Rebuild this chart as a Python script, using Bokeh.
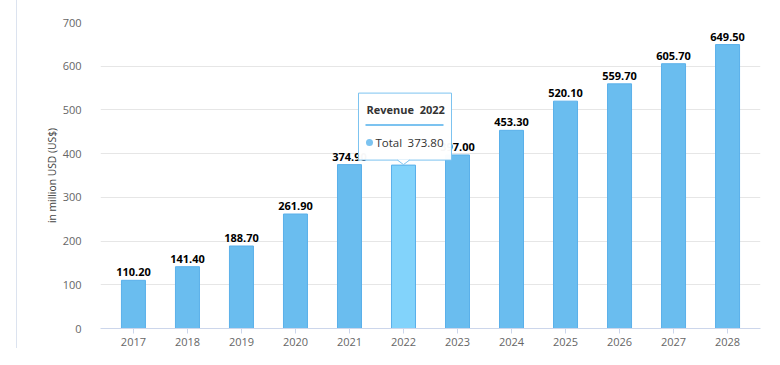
from bokeh.plotting import figure
from bokeh.models import ColumnDataSource, Range1d, FixedTicker, Div
from bokeh.layouts import row
from bokeh.core.properties import value
from bokeh.embed import file_html
from bokeh.resources import INLINE

years = ["2017", "2018", "2019", "2020", "2021", "2022", "2023", "2024", "2025", "2026", "2027", "2028"]
revenue = [110.20, 141.40, 188.70, 261.90, 374.90, 373.80, 397.00, 453.30, 520.10, 559.70, 605.70, 649.50]
y_ticks = [0, 100, 200, 300, 400, 500, 600, 700]
hover_index = 5
tooltip_title = "Revenue\u00a0\u00a02022"
tooltip_series = "Total"

FONT = "Open Sans"
BAR = "#6abdef"
BAR_LINE = "#5ab0ea"
HOVER = "#82d3fb"
TIP = "#7cc3f0"

xs = list(range(len(years)))
colors = [HOVER if i == hover_index else BAR for i in xs]
labels = ["" if i == hover_index else "%.2f" % v for i, v in zip(xs, revenue)]
src = ColumnDataSource(dict(x=xs, top=revenue, color=colors, label=labels))

x0, x1 = -0.61, len(years) - 1 + 0.61
p = figure(width=755, height=357, output_backend="svg", toolbar_location=None,
           x_range=Range1d(x0, x1), y_range=Range1d(0, 700),
           min_border_left=83, min_border_right=12, min_border_top=22, min_border_bottom=29)
p.outline_line_color = None
p.background_fill_color = "white"
p.border_fill_color = "white"

FRAME_W = 660
FRAME_H = 306
px_x = (x1 - x0) / FRAME_W
px_y = 700 / FRAME_H

p.vbar(x="x", top="top", width=24 * px_x, source=src, fill_color="color", line_color=BAR_LINE, line_width=1)
p.text(x="x", y="top", text="label", source=src, text_align="center", text_baseline="bottom",
       y_offset=-4, text_font=value(FONT), text_font_size="11px", text_font_style="bold", text_color="#000000")

# axes
p.xaxis.ticker = FixedTicker(ticks=xs)
p.xaxis.major_label_overrides = {i: y for i, y in zip(xs, years)}
p.xaxis.axis_line_color = "#ccd6eb"
p.xaxis.major_tick_line_color = "#ccd6eb"
p.xaxis.major_tick_out = 5
p.xaxis.major_tick_in = 0
p.xaxis.minor_tick_line_color = None
p.xaxis.major_label_standoff = 4
p.xaxis.major_label_text_font = FONT
p.xaxis.major_label_text_font_size = "11px"
p.xaxis.major_label_text_color = "#666666"

p.yaxis.ticker = FixedTicker(ticks=y_ticks)
p.yaxis.axis_line_color = None
p.yaxis.major_tick_line_color = None
p.yaxis.minor_tick_line_color = None
p.yaxis.major_label_standoff = 13
p.yaxis.major_label_text_font = FONT
p.yaxis.major_label_text_font_size = "11px"
p.yaxis.major_label_text_color = "#666666"
p.yaxis.axis_label = "in million USD (US$)"
p.yaxis.axis_label_text_font = FONT
p.yaxis.axis_label_text_font_size = "10.3px"
p.yaxis.axis_label_text_font_style = "normal"
p.yaxis.axis_label_text_color = "#444444"
p.yaxis.axis_label_standoff = 1

p.xgrid.grid_line_color = None
p.ygrid.grid_line_color = "#e6e6e6"

# tooltip
hx = xs[hover_index]
hy = revenue[hover_index]
bl = hx - 45 * px_x
br = hx + 48 * px_x
bb = hy + 5 * px_y
bt = hy + 72 * px_y
p.quad(left=[bl], right=[br], bottom=[bb], top=[bt], fill_color="white", fill_alpha=0.97,
       line_color=TIP, line_width=1)
p.patch(x=[hx - 6 * px_x, hx + 6 * px_x, hx], y=[bb + 0.6 * px_y, bb + 0.6 * px_y, hy + 0.5 * px_y],
        fill_color="white", line_color=None)
p.multi_line(xs=[[hx - 6 * px_x, hx], [hx + 6 * px_x, hx]], ys=[[bb, hy + 0.5 * px_y], [bb, hy + 0.5 * px_y]],
             line_color=TIP, line_width=1)
p.text(x=[bl + 8 * px_x], y=[hy + 56 * px_y], text=[tooltip_title], text_baseline="middle",
       text_font=value(FONT), text_font_size="11px", text_font_style="bold", text_color="#333333")
p.segment(x0=[bl + 7 * px_x], x1=[br - 8 * px_x], y0=[hy + 40 * px_y], y1=[hy + 40 * px_y],
          line_color=TIP, line_width=2)
p.scatter(x=[bl + 11 * px_x], y=[hy + 22.5 * px_y], size=7, marker="circle", fill_color=TIP, line_color=None)
p.text(x=[bl + 17 * px_x], y=[hy + 22.5 * px_y], text=[tooltip_series], text_baseline="middle",
       text_font=value(FONT), text_font_size="11.5px", text_color="#333333")
p.text(x=[br - 8 * px_x], y=[hy + 22.5 * px_y], text=["%.2f" % hy], text_baseline="middle", text_align="right",
       text_font=value(FONT), text_font_size="11.5px", text_color="#333333")

# page left border line
border = Div(text="", width=1, height=348, margin=(0, 0, 0, 16), styles={"background-color": "#dce3ef"})

layout = row(border, p, spacing=0)
open("out.html", "w").write(file_html(layout, INLINE))
